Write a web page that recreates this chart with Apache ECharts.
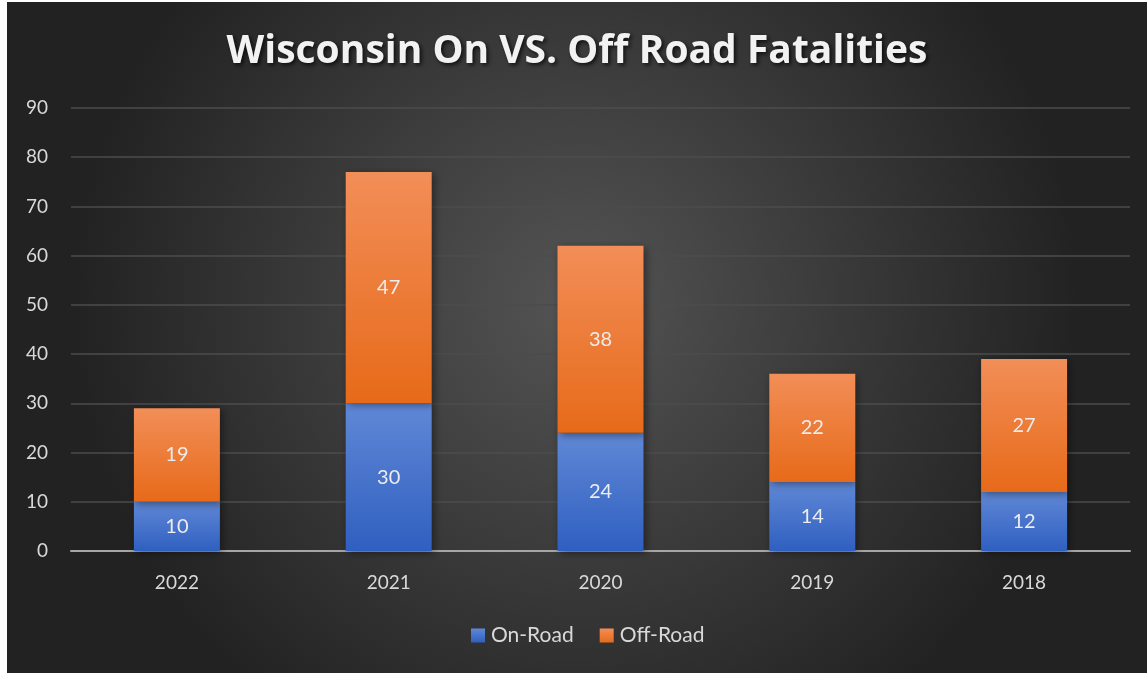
<!DOCTYPE html>
<html><head><meta charset="utf-8">
<script src="https://cdn.jsdelivr.net/npm/echarts@6/dist/echarts.min.js"></script>
<style>
html,body{margin:0;padding:0;background:#fff;width:1147px;height:673px;overflow:hidden}
#c{position:absolute;left:7px;top:2px;width:1140px;height:671px}
</style></head><body>
<div id="c"></div>
<script>
const categories = ['2022','2021','2020','2019','2018'];
const onRoad = [10, 30, 24, 14, 12];
const offRoad = [19, 47, 38, 22, 27];
const yTicks = [0,10,20,30,40,50,60,70,80,90];

const chart = echarts.init(document.getElementById('c'));
const font = 'Lato, "Open Sans", sans-serif';
const label = {show:true, position:'inside', color:'#ececec', fontSize:20, fontFamily:font};
chart.setOption({
  backgroundColor: {type:'radial', x:0.5, y:0.45, r:0.75, colorStops:[{offset:0,color:'#545454'},{offset:1,color:'#222222'}]},
  title: {text:'Wisconsin On VS. Off Road Fatalities', left:'center', top:25,
    textStyle:{color:'#f2f2f2', fontSize:39, fontWeight:'bold', fontFamily:'"Open Sans", sans-serif',
      textShadowColor:'rgba(0,0,0,0.75)', textShadowBlur:4, textShadowOffsetX:2, textShadowOffsetY:2}},
  legend: {bottom:22, left:459, itemWidth:14, itemHeight:14, itemGap:26,
    textStyle:{color:'#d9d9d9', fontSize:21, fontFamily:font, padding:[0,0,0,1]},
    data:[{name:'On-Road', icon:'rect'},{name:'Off-Road', icon:'rect'}]},
  grid: {left:64, right:17, top:106, bottom:122},
  xAxis: {type:'category', data:categories,
    axisLine:{lineStyle:{color:'#a6a6a6', width:2}}, axisTick:{show:false},
    axisLabel:{color:'#d9d9d9', fontSize:19, fontFamily:font, margin:22}},
  yAxis: {type:'value', min:0, max:90, interval:10,
    axisLine:{show:false}, axisTick:{show:false},
    axisLabel:{color:'#d9d9d9', fontSize:19, fontFamily:font, margin:23,
      formatter: v => yTicks.includes(v) ? String(v) : ''},
    splitLine:{lineStyle:{color:'#4d4d4d', width:1.5}}},
  series: [
    {name:'On-Road', type:'bar', stack:'a', data:onRoad, barWidth:86, label:label,
      itemStyle:{color:{type:'linear',x:0,y:0,x2:0,y2:1,colorStops:[{offset:0,color:'#6088d6'},{offset:1,color:'#2f5fc0'}]},
        shadowColor:'rgba(0,0,0,0.45)', shadowBlur:8, shadowOffsetX:2, shadowOffsetY:2}},
    {name:'Off-Road', type:'bar', stack:'a', data:offRoad, barWidth:86, label:label,
      itemStyle:{color:{type:'linear',x:0,y:0,x2:0,y2:1,colorStops:[{offset:0,color:'#f28e58'},{offset:1,color:'#e76a19'}]},
        shadowColor:'rgba(0,0,0,0.45)', shadowBlur:8, shadowOffsetX:2, shadowOffsetY:2}}
  ],
  color:['#4472c4','#ed7d31']
});
</script></body></html>
